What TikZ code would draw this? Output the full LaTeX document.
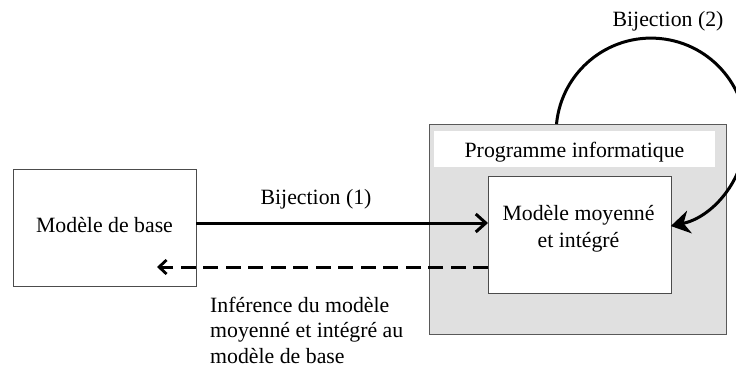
\documentclass[tikz,border=0pt]{standalone}
\usepackage{fontspec}
\setmainfont{Liberation Serif}
\usetikzlibrary{arrows.meta}
\begin{document}
\begin{tikzpicture}[x=1pt,y=1pt,
  every node/.style={font=\fontsize{21.8}{25.5}\selectfont},
  box/.style={draw=black!70, line width=0.9pt, fill=white, inner sep=0pt, outer sep=0pt, align=center},
  progbox/.style={draw=black!65, line width=0.9pt, fill=black!12, inner sep=0pt, outer sep=0pt},
  strip/.style={fill=white, inner sep=0pt, outer sep=0pt},
  arr/.style={line width=3pt, -{Straight Barb[length=10pt,width=18pt,line width=3pt]}},
  dasharr/.style={line width=3pt, dash pattern=on 15pt off 7.5pt, -{Straight Barb[length=7.5pt,width=14pt,line width=2.8pt]}},
  looparr/.style={line width=3pt, -{Stealth[length=19pt,width=23pt,inset=6pt]}},
  lbl/.style={inner sep=0pt, anchor=base}
]
\useasboundingbox (0,0) rectangle (736,370);
% nodes
\node[box, minimum width=183pt, minimum height=117pt] (base) at (104.5,142.5) {};
\node[lbl] (baselbl) at (104.5,138) {Modèle de base};
\node[progbox, minimum width=297pt, minimum height=210pt] (prog) at (577.5,141) {};
\node[strip, minimum width=281pt, minimum height=36pt] (title) at (574.5,221) {};
\node[lbl] (titlelbl) at (574.5,212) {Programme informatique};
\node[box, minimum width=183pt, minimum height=117pt] (inner) at (579.5,135.5) {};
\node[lbl] (innerlbl1) at (578.5,150) {Modèle moyenné};
\node[lbl] (innerlbl2) at (578.5,123) {et intégré};
% connectors
\draw[arr] ([yshift=4.5pt]base.east) -- ([yshift=4.5pt]base.east -| inner.west);
\node[lbl] (bij1) at (316,165) {Bijection (1)};
\coordinate (dtip) at (157,103);
\draw[dasharr] (inner.west |- dtip) -- (dtip);
\draw[looparr] ([xshift=-21pt]prog.north) arc[start angle=174.5, end angle=-78, radius=95];
\node[lbl] (bij2) at (668,343) {Bijection (2)};
\node[inner sep=0pt, anchor=base west, align=left] (inf) at (210,7)
  {Inférence du modèle\\moyenné et intégré au\\modèle de base};
\end{tikzpicture}
\end{document}
